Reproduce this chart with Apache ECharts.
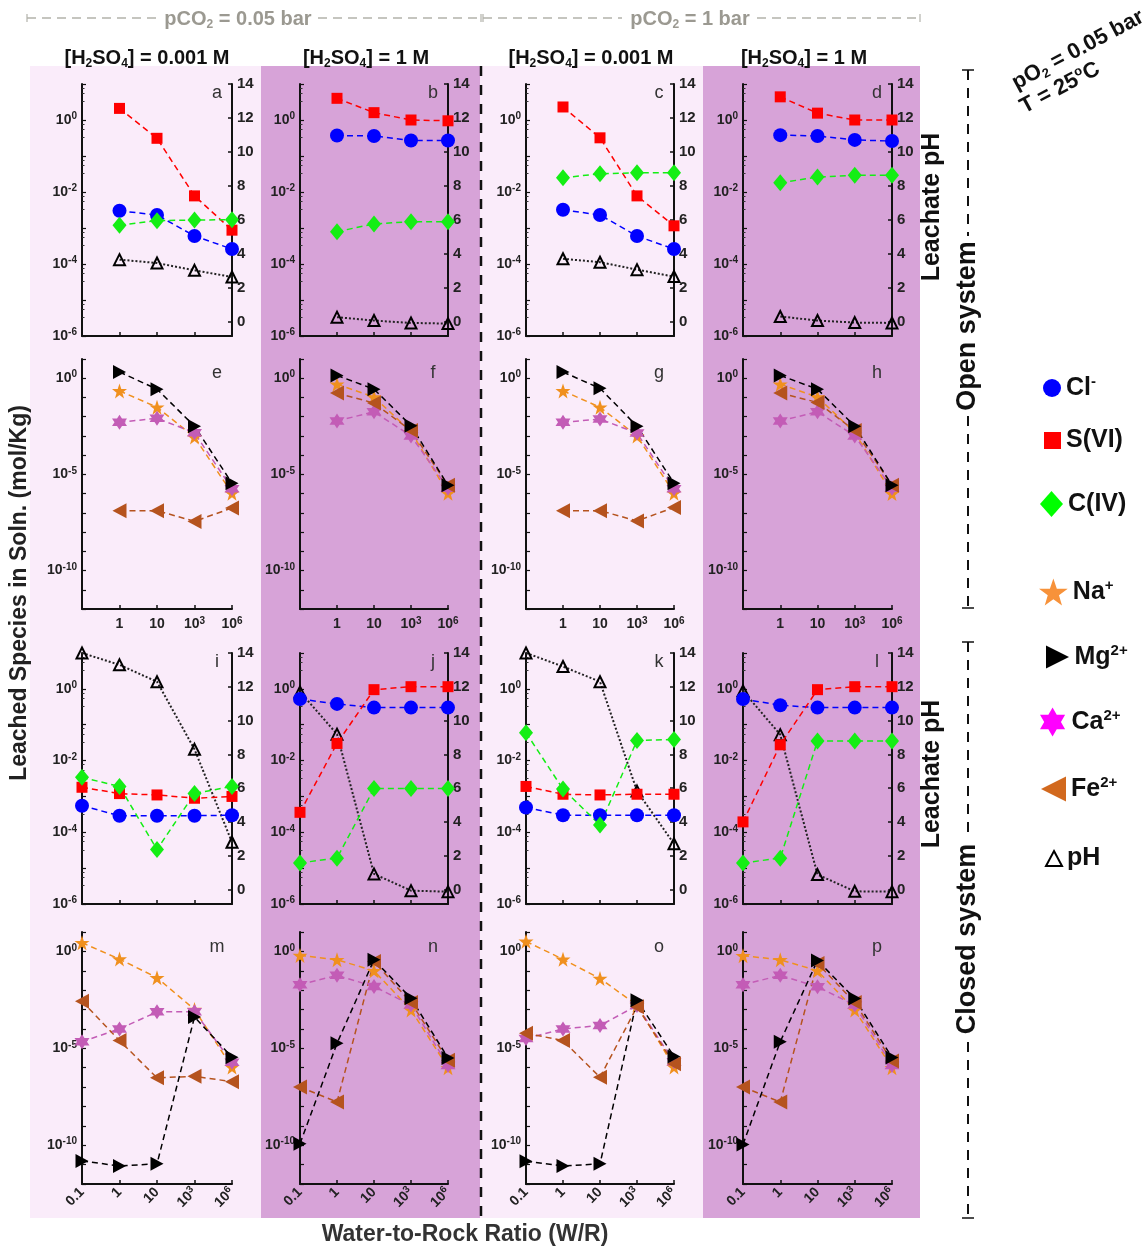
<!DOCTYPE html>
<html><head><meta charset="utf-8">
<script src="https://cdn.jsdelivr.net/npm/echarts@6/dist/echarts.min.js"></script>
<style>html,body{margin:0;padding:0;background:#fff}#c{width:1146px;height:1247px}</style>
</head><body><div id="c"></div><script>
// ---------- x categories (water-to-rock ratio) ----------
const wrLabels = ['0.1', '1', '10', '10^3', '10^6'];

// ---------- Open system, anions + pH (W/R = 1 .. 1e6) ----------
const a_Cl = [3.0e-3, 2.3e-3, 6.0e-4, 2.6e-4];
const a_S  = [2.1, 0.31, 7.8e-3, 8.7e-4];
const a_C  = [1.2e-3, 1.6e-3, 1.66e-3, 1.7e-3];
const a_pH = [3.65, 3.45, 3.02, 2.63];

const b_Cl = [0.37, 0.36, 0.27, 0.27];
const b_S  = [4.0, 1.6, 1.0, 0.95];
const b_C  = [7.9e-4, 1.3e-3, 1.5e-3, 1.5e-3];
const b_pH = [0.26, 0.06, -0.08, -0.12];

const c_Cl = [3.2e-3, 2.3e-3, 6.0e-4, 2.6e-4];
const c_S  = [2.3, 0.32, 7.8e-3, 1.15e-3];
const c_C  = [0.025, 0.032, 0.034, 0.034];
const c_pH = [3.7, 3.5, 3.06, 2.65];

const d_Cl = [0.38, 0.36, 0.28, 0.26];
const d_S  = [4.4, 1.55, 1.0, 1.0];
const d_C  = [0.018, 0.026, 0.029, 0.029];
const d_pH = [0.3, 0.06, -0.06, -0.08];

// ---------- Open system, cations (W/R = 1 .. 1e6) ----------
const e_Na = [0.22, 0.031, 8.7e-4, 1.05e-6];
const e_Mg = [2.1, 0.27, 3.2e-3, 3.5e-6];
const e_Ca = [5.1e-3, 8.3e-3, 1.45e-3, 1.8e-6];
const e_Fe = [1.3e-7, 1.3e-7, 3.6e-8, 1.8e-7];

const f_Na = [0.49, 0.105, 1.66e-3, 1.05e-6];
const f_Mg = [1.4, 0.27, 3.4e-3, 2.7e-6];
const f_Ca = [6.0e-3, 0.018, 1.0e-3, 1.9e-6];
const f_Fe = [0.17, 0.051, 1.9e-3, 2.7e-6];

const g_Na = [0.22, 0.031, 1.0e-3, 1.05e-6];
const g_Mg = [2.1, 0.3, 3.2e-3, 3.5e-6];
const g_Ca = [5.1e-3, 7.5e-3, 1.4e-3, 1.8e-6];
const g_Fe = [1.3e-7, 1.3e-7, 3.8e-8, 1.9e-7];

const h_Na = [0.49, 0.105, 1.5e-3, 1.0e-6];
const h_Mg = [1.4, 0.27, 3.2e-3, 2.7e-6];
const h_Ca = [6.0e-3, 0.018, 1.0e-3, 1.9e-6];
const h_Fe = [0.17, 0.055, 1.9e-3, 2.7e-6];

// ---------- Closed system, anions + pH (W/R = 0.1 .. 1e6) ----------
const i_Cl = [5.5e-4, 2.9e-4, 2.9e-4, 2.9e-4, 3.0e-4];
const i_S  = [1.8e-3, 1.2e-3, 1.1e-3, 8.9e-4, 1.0e-3];
const i_C  = [3.4e-3, 1.9e-3, 3.3e-5, 1.2e-3, 1.9e-3];
const i_pH = [14.0, 13.3, 12.3, 8.3, 2.8];

const j_Cl = [0.52, 0.38, 0.30, 0.30, 0.30];
const j_S  = [3.6e-4, 0.03, 0.95, 1.15, 1.15];
const j_C  = [1.4e-5, 1.9e-5, 1.66e-3, 1.66e-3, 1.66e-3];
const j_pH = [11.7, 9.2, 0.93, -0.06, -0.12];

const k_Cl = [4.9e-4, 3.0e-4, 3.0e-4, 3.0e-4, 3.0e-4];
const k_S  = [1.9e-3, 1.15e-3, 1.1e-3, 1.15e-3, 1.15e-3];
const k_C  = [0.06, 1.6e-3, 1.6e-4, 0.036, 0.039];
const k_pH = [14.0, 13.2, 12.3, 5.83, 2.71];

const l_Cl = [0.52, 0.35, 0.30, 0.30, 0.30];
const l_S  = [1.95e-4, 0.0275, 0.95, 1.15, 1.15];
const l_C  = [1.4e-5, 1.9e-5, 0.035, 0.035, 0.035];
const l_pH = [11.76, 9.17, 0.89, -0.1, -0.12];

// ---------- Closed system, cations (W/R = 0.1 .. 1e6) ----------
const m_Na = [2.8, 0.4, 0.044, 1.0e-3, 1.07e-6];
const m_Mg = [1.55e-11, 8.5e-12, 1.1e-11, 4.1e-4, 3.5e-6];
const m_Ca = [2.2e-5, 1.0e-4, 7.6e-4, 7.6e-4, 1.9e-6];
const m_Fe = [2.7e-3, 2.5e-5, 3.0e-7, 3.6e-7, 1.9e-7];

const n_Na = [0.62, 0.37, 0.1, 9.5e-4, 1.0e-6];
const n_Mg = [1.2e-10, 1.8e-5, 0.37, 3.8e-3, 3.2e-6];
const n_Ca = [0.019, 0.058, 0.0155, 1.7e-3, 1.3e-6];
const n_Fe = [1.0e-7, 1.7e-8, 0.30, 2.3e-3, 2.4e-6];

const o_Na = [3.3, 0.39, 0.04, 1.7e-3, 1.1e-6];
const o_Mg = [1.5e-11, 8.5e-12, 1.1e-11, 3.0e-3, 3.8e-6];
const o_Ca = [3.2e-5, 1.0e-4, 1.5e-4, 1.6e-3, 2.0e-6];
const o_Fe = [6.0e-5, 2.5e-5, 3.2e-7, 1.4e-3, 1.6e-6];

const p_Na = [0.6, 0.37, 0.1, 9.5e-4, 1.0e-6];
const p_Mg = [1.1e-10, 2.2e-5, 0.34, 3.7e-3, 3.4e-6];
const p_Ca = [0.019, 0.058, 0.015, 1.7e-3, 1.3e-6];
const p_Fe = [1.0e-7, 1.7e-8, 0.24, 2.3e-3, 2.2e-6];

// ---------- panel definitions ----------
const panels = [
  {id:'a', row:0, col:0, d:{Cl:a_Cl, S:a_S, C:a_C, pH:a_pH}},
  {id:'b', row:0, col:1, d:{Cl:b_Cl, S:b_S, C:b_C, pH:b_pH}},
  {id:'c', row:0, col:2, d:{Cl:c_Cl, S:c_S, C:c_C, pH:c_pH}},
  {id:'d', row:0, col:3, d:{Cl:d_Cl, S:d_S, C:d_C, pH:d_pH}},
  {id:'e', row:1, col:0, d:{Na:e_Na, Ca:e_Ca, Fe:e_Fe, Mg:e_Mg}},
  {id:'f', row:1, col:1, d:{Na:f_Na, Ca:f_Ca, Fe:f_Fe, Mg:f_Mg}},
  {id:'g', row:1, col:2, d:{Na:g_Na, Ca:g_Ca, Fe:g_Fe, Mg:g_Mg}},
  {id:'h', row:1, col:3, d:{Na:h_Na, Ca:h_Ca, Fe:h_Fe, Mg:h_Mg}},
  {id:'i', row:2, col:0, d:{Cl:i_Cl, S:i_S, C:i_C, pH:i_pH}},
  {id:'j', row:2, col:1, d:{Cl:j_Cl, S:j_S, C:j_C, pH:j_pH}},
  {id:'k', row:2, col:2, d:{Cl:k_Cl, S:k_S, C:k_C, pH:k_pH}},
  {id:'l', row:2, col:3, d:{Cl:l_Cl, S:l_S, C:l_C, pH:l_pH}},
  {id:'m', row:3, col:0, d:{Na:m_Na, Ca:m_Ca, Fe:m_Fe, Mg:m_Mg}},
  {id:'n', row:3, col:1, d:{Na:n_Na, Ca:n_Ca, Fe:n_Fe, Mg:n_Mg}},
  {id:'o', row:3, col:2, d:{Na:o_Na, Ca:o_Ca, Fe:o_Fe, Mg:o_Mg}},
  {id:'p', row:3, col:3, d:{Na:p_Na, Ca:p_Ca, Fe:p_Fe, Mg:p_Mg}}
];

// ---------- layout ----------
const F = '"Liberation Sans", Arial, Helvetica, sans-serif';
const axL = [82, 300, 526, 743], axR = [232, 448, 674, 892];
const rowTop = [84, 359, 653, 932], rowBot = [336, 609, 904, 1184];
const letterDy = [9, 14, 9, 15];

const STAR = 'path://M50,0 L61.8,35.1 L98.9,35.1 L69.1,57.3 L79.4,91.9 L50,70.6 L20.6,91.9 L30.9,57.3 L1.1,35.1 L38.2,35.1 Z';
const HEX = 'path://M50,0 L64.43,25 L93.3,25 L78.87,50 L93.3,75 L64.43,75 L50,100 L35.57,75 L6.7,75 L21.13,50 L6.7,25 L35.57,25 Z';
const TRI_R = 'path://M0,0 L100,50 L0,100 Z';
const TRI_L = 'path://M100,0 L0,50 L100,100 Z';

const sp = {
  Cl: {name:'Cl-',  color:'#0000ff', symbol:'circle',  size:14},
  S:  {name:'S(VI)',color:'#ff0000', symbol:'rect',    size:11},
  C:  {name:'C(IV)',color:'#14ee14', symbol:'diamond', size:[14,17]},
  Na: {name:'Na+',  color:'#f0901e', symbol:STAR,      size:15},
  Mg: {name:'Mg2+', color:'#000000', symbol:TRI_R,     size:[13,14]},
  Ca: {name:'Ca2+', color:'#c35cb6', symbol:HEX,       size:15},
  Fe: {name:'Fe2+', color:'#b5531e', symbol:TRI_L,     size:[14,15]},
  pH: {name:'pH',   color:'#000000', symbol:'triangle',size:11}
};

const supRich = {
  b: {fontSize:14, fontWeight:'bold', color:'#222', fontFamily:F, lineHeight:17},
  s: {fontSize:10, fontWeight:'bold', color:'#222', fontFamily:F, verticalAlign:'top', lineHeight:10}
};
function tenLabel(txt) {
  const m = txt.match(/^10\^(.+)$/);
  return m ? '{b|10}{s|' + m[1] + '}' : '{b|' + txt + '}';
}

const grids = [], xAxes = [], yAxes = [], series = [], graphics = [];

panels.forEach((p, k) => {
  const {row, col} = p;
  grids.push({left: axL[col], top: rowTop[row], width: axR[col] - axL[col], height: rowBot[row] - rowTop[row], containLabel:false});
  const axisLine = {show:true, onZero:false, lineStyle:{color:'#111', width:2}};
  let labelCfg;
  if (row === 0 || row === 2) labelCfg = {show:false};
  else if (row === 1) labelCfg = {show:true, margin:7, formatter: v => v === 0 ? '' : tenLabel(wrLabels[v]), rich: supRich};
  else labelCfg = {show:true, margin:6, rotate:45, formatter: v => tenLabel(wrLabels[v]), rich: supRich};
  xAxes.push({gridIndex:k, type:'value', min:0, max:4, interval:1, axisLine,
    axisTick:{show:true, inside:true, length:4, lineStyle:{color:'#111', width:1.5}},
    splitLine:{show:false}, axisLabel: labelCfg});
  const isAnion = (row === 0 || row === 2);
  const step = isAnion ? 2 : 5;
  const logIdx = yAxes.length;
  yAxes.push({gridIndex:k, type:'log', logBase:10, min: isAnion ? 1e-6 : 1e-12, max:10, interval:1,
    axisLine, splitLine:{show:false},
    axisTick:{show:true, inside:true, length:4, lineStyle:{color:'#111', width:1.2}},
    minorTick: isAnion ? {show:true, splitNumber:4, length:2.5, lineStyle:{color:'#333', width:1}} : {show:false},
    axisLabel:{show:true, margin:5, rich: supRich, formatter: v => {
      const e = Math.round(Math.log10(v));
      return (e % step === 0) ? '{b|10}{s|' + e + '}' : '';
    }}});
  let phIdx = null;
  if (isAnion) {
    phIdx = yAxes.length;
    yAxes.push({gridIndex:k, type:'value', position:'right', min:-0.85, max:14, splitNumber:7,
      axisLine, splitLine:{show:false},
      axisTick:{show:true, inside:true, length:4, lineStyle:{color:'#111', width:1.5}},
      axisLabel:{show:true, margin:5, fontSize:15, fontWeight:'bold', color:'#222', fontFamily:F,
        formatter: v => {
          const r = Math.round(v);
          return (Math.abs(v - r) < 1e-6 && r >= 0 && r % 2 === 0) ? String(r) : '';
        }}});
  }
  const start = row < 2 ? 1 : 0;
  Object.keys(p.d).forEach(key => {
    const s = sp[key];
    const data = p.d[key].map((v, i) => [start + i, v]);
    const isPH = key === 'pH';
    series.push({
      name: s.name, type:'line', xAxisIndex:k, yAxisIndex: isPH ? phIdx : logIdx,
      data, symbol: s.symbol, symbolSize: s.size, showSymbol:true,
      symbolKeepAspect:false,
      itemStyle: isPH ? {color:'rgba(0,0,0,0)', borderColor:'#000', borderWidth:2}
                      : {color: s.color, borderWidth:0},
      lineStyle: isPH ? {color:'#222', width:2, type:[2,2]} : {color:s.color, width:1.5, type:[6,4]},
      z: isPH ? 3 : 4, animation:false, silent:true
    });
  });
  graphics.push({type:'text', x: axR[col] - 15, y: rowTop[row] + letterDy[row], z:50,
    style:{text:p.id, font:'18px ' + F, fill:'#333', align:'center', verticalAlign:'middle'}});
});

// ---------- backgrounds ----------
const LIGHT = '#faecfa', PURPLE = '#d7a3d8';
[[30, 231, LIGHT], [261, 219, PURPLE], [480, 223, LIGHT], [703, 217, PURPLE]].forEach(([x, w, c]) => {
  graphics.push({type:'rect', shape:{x, y:66, width:w, height:1152}, style:{fill:c}, z:-100, silent:true});
});
// separator between pCO2 groups
graphics.push({type:'line', shape:{x1:481, y1:66, x2:481, y2:1218}, style:{stroke:'#111', lineWidth:2.5, lineDash:[10,9]}, z:-50});

// ---------- header ----------
const GREY = '#9b9991';
[[27,157],[318,481],[483,622],[757,920]].forEach(([x1,x2]) => {
  graphics.push({type:'line', shape:{x1, y1:18, x2, y2:18}, style:{stroke:'#b3b2ab', lineWidth:1.5, lineDash:[9,6]}});
});
[27, 481, 483, 920].forEach(x => graphics.push({type:'line', shape:{x1:x, y1:14, x2:x, y2:22}, style:{stroke:'#b3b2ab', lineWidth:1.2}}));
const hRich = {t:{fontSize:20, fontWeight:'bold', fill:GREY, color:GREY, fontFamily:F, lineHeight:23},
               s:{fontSize:12, fontWeight:'bold', fill:GREY, color:GREY, fontFamily:F, verticalAlign:'bottom', lineHeight:15}};
graphics.push({type:'text', x:238, y:19, style:{text:'{t|pCO}{s|2}{t| = 0.05 bar}', rich:hRich, align:'center', verticalAlign:'middle'}});
graphics.push({type:'text', x:690, y:19, style:{text:'{t|pCO}{s|2}{t| = 1 bar}', rich:hRich, align:'center', verticalAlign:'middle'}});

const tRich = {t:{fontSize:20, fontWeight:'bold', fill:'#111', color:'#111', fontFamily:F, lineHeight:23},
               s:{fontSize:12, fontWeight:'bold', fill:'#111', color:'#111', fontFamily:F, verticalAlign:'bottom', lineHeight:15}};
[[147,'0.001 M'],[366,'1 M'],[591,'0.001 M'],[804,'1 M']].forEach(([x, c]) => {
  graphics.push({type:'text', x, y:58, style:{text:'{t|[H}{s|2}{t|SO}{s|4}{t|] = ' + c + '}', rich:tRich, align:'center', verticalAlign:'middle'}});
});

// pO2 / T annotation
const oRich = {t:{fontSize:22, fontWeight:'bold', fill:'#111', color:'#111', fontFamily:F, lineHeight:25},
               s:{fontSize:13, fontWeight:'bold', fill:'#111', color:'#111', fontFamily:F, verticalAlign:'bottom', lineHeight:16},
               u:{fontSize:13, fontWeight:'bold', fill:'#111', color:'#111', fontFamily:F, verticalAlign:'top', lineHeight:14}};
graphics.push({type:'text', x:1078, y:50, rotation:28*Math.PI/180, style:{text:'{t|pO}{s|2}{t| = 0.05 bar}', rich:oRich, align:'center', verticalAlign:'middle'}});
graphics.push({type:'text', x:1060, y:88, rotation:28*Math.PI/180, style:{text:'{t|T = 25}{u|o}{t|C}', rich:oRich, align:'center', verticalAlign:'middle'}});

// axis titles
graphics.push({type:'text', x:20, y:593, rotation:Math.PI/2, style:{text:'Leached Species in Soln. (mol/Kg)', font:'bold 23px ' + F, fill:'#222', align:'center', verticalAlign:'middle'}});
graphics.push({type:'text', x:465, y:1235, style:{text:'Water-to-Rock Ratio (W/R)', font:'bold 23px ' + F, fill:'#333', align:'center', verticalAlign:'middle'}});
[207, 774].forEach(y => graphics.push({type:'text', x:932, y, rotation:Math.PI/2, style:{text:'Leachate pH', font:'bold 25px ' + F, fill:'#111', align:'center', verticalAlign:'middle'}}));

// open / closed system brackets
function bracket(y1, y2, g1, g2, label, cy) {
  graphics.push({type:'line', shape:{x1:968, y1, x2:968, y2:g1}, style:{stroke:'#111', lineWidth:2, lineDash:[10,8]}});
  graphics.push({type:'line', shape:{x1:968, y1:g2, x2:968, y2}, style:{stroke:'#111', lineWidth:2, lineDash:[10,8]}});
  graphics.push({type:'line', shape:{x1:962, y1, x2:974, y2:y1}, style:{stroke:'#111', lineWidth:1.5}});
  graphics.push({type:'line', shape:{x1:962, y1:y2, x2:974, y2}, style:{stroke:'#111', lineWidth:1.5}});
  graphics.push({type:'text', x:968, y:cy, rotation:Math.PI/2, style:{text:label, font:'bold 27px ' + F, fill:'#111', align:'center', verticalAlign:'middle'}});
}
bracket(70, 608, 236, 416, 'Open system', 326);
bracket(642, 1218, 836, 1042, 'Closed system', 939);

// ---------- legend ----------
const legRich = {b:{fontSize:25, fontWeight:'bold', color:'#111', fontFamily:F, lineHeight:28},
                 s:{fontSize:15, fontWeight:'bold', color:'#111', fontFamily:F, verticalAlign:'top', lineHeight:16}};
const legFmt = {'Cl-':'{b|Cl}{s|-}', 'S(VI)':'{b|S(VI)}', 'C(IV)':'{b|C(IV)}', 'Na+':'{b|Na}{s|+}',
                'Mg2+':'{b|Mg}{s|2+}', 'Ca2+':'{b|Ca}{s|2+}', 'Fe2+':'{b|Fe}{s|2+}', 'pH':'{b|pH}'};
const legendItems = [
  {name:'Cl-',   cy:388, left:1043, w:18, h:18, icon:'circle',  st:{color:'#0000ff'}},
  {name:'S(VI)', cy:442, left:1044, w:17, h:17, icon:'rect',    st:{color:'#ff0000'}},
  {name:'C(IV)', cy:505, left:1040, w:23, h:26, icon:'diamond', st:{color:'#00ff00'}},
  {name:'Na+',   cy:592, left:1039, w:29, h:27, icon:STAR,      st:{color:'#f7923a'}},
  {name:'Mg2+',  cy:657, left:1046, w:24, h:23, icon:TRI_R,     st:{color:'#000000'}},
  {name:'Ca2+',  cy:722, left:1040, w:28, h:29, icon:HEX,       st:{color:'#ff00ff'}},
  {name:'Fe2+',  cy:789, left:1041, w:25, h:25, icon:TRI_L,     st:{color:'#d2691e'}},
  {name:'pH',    cy:860, left:1045, w:16, h:15, icon:'triangle',st:{color:'#ffffff', borderColor:'#000', borderWidth:2}}
];
const legends = legendItems.map(it => ({
  show:true, orient:'vertical', left: it.left, top: it.cy - Math.max(it.h, 28) / 2,
  selectedMode:false, itemWidth: it.w, itemHeight: it.h, padding:0, itemGap:0,
  data:[{name: it.name, icon: it.icon, itemStyle: it.st}],
  formatter: n => legFmt[n], textStyle:{rich: legRich}
}));

const chart = echarts.init(document.getElementById('c'), null, {renderer:'canvas'});
chart.setOption({
  backgroundColor:'#ffffff',
  animation:false,
  textStyle:{fontFamily:F},
  grid: grids, xAxis: xAxes, yAxis: yAxes, series,
  legend: legends,
  graphic: {elements: graphics}
});
</script></body></html>
